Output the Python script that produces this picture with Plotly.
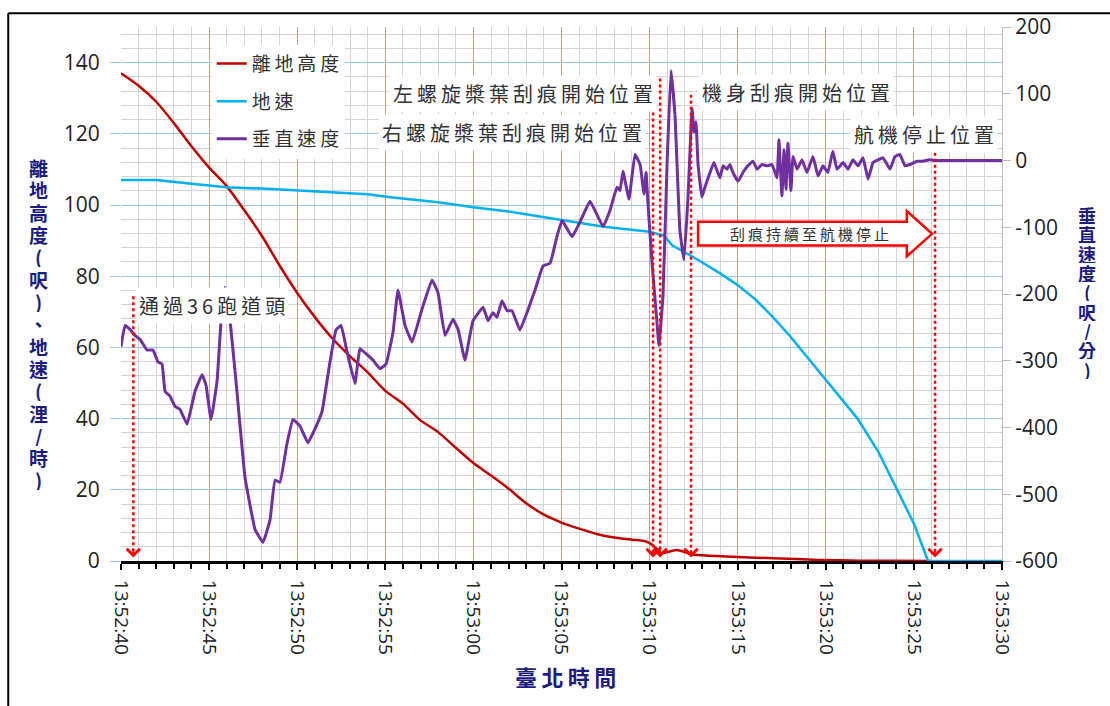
import plotly.graph_objects as go

# ---------------- data (seconds after 13:52:40) ----------------
tick_labels = ["13:52:40", "13:52:45", "13:52:50", "13:52:55", "13:53:00", "13:53:05",
               "13:53:10", "13:53:15", "13:53:20", "13:53:25", "13:53:30"]
tick_secs = [0, 5, 10, 15, 20, 25, 30, 35, 40, 45, 50]
vs_ticks = [-600, -500, -400, -300, -200, -100, 0, 100, 200]

alt_t = [0, 1, 2, 3, 4, 5, 6, 7, 8, 9, 10, 11, 12, 13, 14, 15, 16, 17, 18, 19, 20,
         21, 22, 23, 24, 25, 26, 27, 28, 29, 29.7, 30.0, 30.3, 30.65, 31.0, 31.55, 32.0,
         32.35, 33, 35, 37, 39.6, 42, 44, 46]
alt_ft = [137, 133.5, 129, 123, 116.5, 110.5, 105.3, 98.5, 91.3, 83, 75.3, 68.5, 62.5,
          57.5, 53, 47.8, 44.2, 39.5, 36.2, 31.8, 27.5, 24.0, 20.3, 16.2, 13.0, 10.8, 9.1,
          7.6, 6.6, 6.0, 5.6, 5.0, 3.9, 2.2, 2.5, 3.1, 2.5, 1.9, 1.6, 1.1, 0.8, 0.3, 0.1,
          0.05, 0]

gs_t = [0, 2, 4, 6, 8, 10, 12, 14, 15.3, 18, 20, 22, 25, 27.4, 30, 30.8, 31.3, 32.4, 34,
        35, 36, 37, 38, 39, 40.1, 41.8, 43, 44, 45, 45.8, 50]
gs_kt = [107, 107, 106, 105, 104.6, 104, 103.6, 103, 102.2, 100.8, 99.4, 98.2, 95.8, 93.9,
         92.5, 91.4, 88.6, 85.6, 80.8, 77.5, 73.5, 68.5, 63, 57, 50.3, 40, 30.5, 20.6,
         10.5, 0, 0]

vs_t = [0, 0.23, 0.51, 0.79, 1.08, 1.48, 1.82, 2.10, 2.33, 2.50, 2.78, 3.06, 3.35, 3.75,
        4.20, 4.60, 4.82, 5.11, 5.45, 5.68, 5.90, 6.19, 6.58, 7.04, 7.61, 8.06, 8.46, 8.74,
        9.02, 9.42, 9.76, 10.16, 10.61, 11.01, 11.41, 11.86, 12.20, 12.49, 12.83, 13.28,
        13.56, 13.96, 14.30, 14.70, 15.04, 15.44, 15.72, 16.12, 16.52, 17.08, 17.65, 17.99,
        18.39, 18.84, 19.13, 19.52, 19.98, 20.55, 20.83, 21.11, 21.34, 21.62, 21.91, 22.19,
        22.64, 23.04, 23.50, 23.95, 24.35, 24.74, 25.03, 25.60, 26.05, 26.62, 27.36, 27.75,
        28.15, 28.32, 28.49, 28.83, 29.17, 29.46, 29.68, 29.80, 29.91, 30.14, 30.42, 30.53,
        30.76, 30.99, 31.21, 31.44, 31.72, 31.95, 32.18, 32.41, 32.52, 32.63, 32.75, 32.97,
        33.14, 33.43, 33.65, 33.99, 34.17, 34.39, 34.56, 34.73, 35.02, 35.30, 35.58, 35.87,
        36.10, 36.38, 36.66, 36.95, 37.23, 37.34, 37.51, 37.63, 37.74, 37.85, 38.02, 38.14,
        38.37, 38.65, 38.93, 39.27, 39.56, 39.84, 40.12, 40.40, 40.64, 40.98, 41.26, 41.54,
        41.83, 42.11, 42.40, 42.68, 42.96, 43.25, 43.64, 43.93, 44.20, 44.50, 44.78, 45.18,
        45.50, 45.90, 46.20, 50]
vs_fpm = [-279, -247, -253, -262, -268, -284, -284, -302, -305, -346, -353, -368, -373, -395,
          -346, -321, -336, -388, -331, -240, -190, -240, -346, -475, -553, -572, -538, -479,
          -482, -424, -388, -398, -423, -402, -376, -302, -254, -247, -287, -334,
          -282, -291, -299, -312, -305, -257, -194, -247, -272, -223, -179, -198,
          -262, -238, -253, -299, -240, -220, -240, -228, -235, -210, -225, -225,
          -254, -228, -194, -158, -154, -114, -90, -114, -92, -61, -99, -75,
          -40, -45, -16, -58, 9, -6, -50, -18, -65, -154, -243, -277,
          -203, -6, 135, 68, -105, -149, -55, 78, 43, 58, -6, -55,
          -40, -18, -3, -26, -8, -13, -6, -18, -31, -18, -8, -1,
          -13, -6, -8, -6, -26, 31, -53, 16, -43, 26, -45, 6,
          -13, 1, -18, 6, -23, -8, -18, 14, -13, -3, -13, 1,
          -8, 4, -28, -3, 1, 4, -13, 6, 9, -8, -6, -1,
          -1, 1, 0, 0]

# event markers: time (s) and top of dotted line (left-axis units)
event_t = [0.7, 30.2, 30.6, 32.35, 46.2]
event_top = [74.4, 126, 135.5, 131, 114.7]

RED = "#C00000"
BLUE = "#00B0F0"
PURPLE = "#7030A0"
NAVY = "#1B1B85"
CJK = "Noto Sans CJK TC"
NUM = "Open Sans"

PLOT_TOP, PLOT_H = 20, 541


def sp(s, gap="\u2009"):
    return gap.join(s)


def py(px):
    """pixel row -> paper y"""
    return (PLOT_TOP + PLOT_H - px) / PLOT_H


fig = go.Figure()
fig.add_trace(go.Scatter(x=alt_t, y=alt_ft, name=sp("離地高度"), mode="lines",
                         line=dict(color=RED, width=2.5, shape="spline", smoothing=0.6),
                         legendgroup="a"))
fig.add_trace(go.Scatter(x=gs_t, y=gs_kt, name=sp("地速"), mode="lines",
                         line=dict(color=BLUE, width=2.5), legendgroup="b"))
fig.add_trace(go.Scatter(x=vs_t, y=vs_fpm, name=sp("垂直速度"), mode="lines",
                         line=dict(color=PURPLE, width=3, shape="spline", smoothing=0.3),
                         yaxis="y2", legendgroup="c"))

shapes = []
annotations = []

# dotted event lines with arrowheads
for t, top in zip(event_t, event_top):
    shapes.append(dict(type="line", xref="x", yref="y", x0=t, x1=t, y0=top, y1=2.0,
                       line=dict(color="#FF0000", width=2.5, dash="dot"), layer="above"))
    annotations.append(dict(x=t, y=1.0, xref="x", yref="y", ax=0, ay=-9, text="",
                            showarrow=True, arrowhead=4, arrowsize=1.6, arrowwidth=1.6,
                            arrowcolor="#FF0000"))

# block arrow
shapes.append(dict(type="path", xref="x", yref="y", layer="above",
                   path="M 32.75,95.3 L 44.6,95.3 L 44.6,98.3 L 46.03,91.9 L 44.6,85.6 "
                        "L 44.6,88.6 L 32.75,88.6 Z",
                   fillcolor="white", line=dict(color="#FF0000", width=2.5)))

# outer border (top + left)
shapes.append(dict(type="line", xref="paper", yref="paper", x0=-0.128, x1=1.2,
                   y0=py(6), y1=py(6), line=dict(color="black", width=2)))
shapes.append(dict(type="line", xref="paper", yref="paper", x0=-0.128, x1=-0.128,
                   y0=py(6), y1=py(720), line=dict(color="black", width=2)))

txt_font = dict(family=CJK, size=20, color="#333333")
for text, x, y in [("左螺旋槳葉刮痕開始位置", 22.8, 131.4),
                   ("右螺旋槳葉刮痕開始位置", 22.2, 120.5),
                   ("機身刮痕開始位置", 38.3, 131.7),
                   ("航機停止位置", 45.6, 119.7),
                   ("通過36跑道頭", 5.17, 71.9)]:
    annotations.append(dict(x=x, y=y, xref="x", yref="y", text=sp(text), showarrow=False,
                            xanchor="center", yanchor="middle",
                            font=txt_font, bgcolor="white", borderpad=3))

annotations.append(dict(x=39.05, y=91.9, xref="x", yref="y", text=sp("刮痕持續至航機停止"),
                        showarrow=False, xanchor="center", yanchor="middle",
                        font=dict(family=CJK, size=15, color="#333333")))

# stacked (vertical) axis titles, one character per row
left_title = list("離地高度(呎)、地速(浬/時)")
right_title = list("垂直速度(呎/分)")
for i, ch in enumerate(left_title):
    annotations.append(dict(x=(38 - 121) / 881, y=py(162 + i * 22.6), xref="paper",
                            yref="paper", text=ch, showarrow=False,
                            xanchor="center", yanchor="middle", height=22, borderpad=0,
                            font=dict(family=CJK, size=19, color=NAVY, weight="bold")))
for i, ch in enumerate(right_title):
    annotations.append(dict(x=(1087 - 121) / 881, y=py(210 + i * 19.6), xref="paper",
                            yref="paper", text=ch, showarrow=False,
                            xanchor="center", yanchor="middle", height=19, borderpad=0,
                            font=dict(family=CJK, size=18, color=NAVY, weight="bold")))
annotations.append(dict(x=0.504, y=py(678), xref="paper", yref="paper",
                        text=sp("臺北時間"), showarrow=False,
                        xanchor="center", yanchor="middle",
                        font=dict(family=CJK, size=22, color=NAVY, weight="bold")))

fig.update_layout(
    width=1110, height=706,
    margin=dict(l=121, r=108, t=PLOT_TOP, b=706 - PLOT_TOP - PLOT_H),
    paper_bgcolor="white", plot_bgcolor="white",
    showlegend=True,
    legend=dict(x=0.103, y=0.967, xanchor="left", yanchor="top", bgcolor="white",
                font=dict(family=CJK, size=19, color="#333333"),
                traceorder="grouped", tracegroupgap=10, itemwidth=30),
    xaxis=dict(range=[0, 50], tickvals=tick_secs, ticktext=tick_labels, tickangle=90,
               showgrid=True, gridcolor="#D2A27E", gridwidth=1,
               ticks="outside", ticklen=6, tickwidth=2, tickcolor="black",
               showline=True, linecolor="black", linewidth=3, zeroline=False,
               ticklabelstandoff=6,
               tickfont=dict(family=NUM, size=19, color="#222222"),
               minor=dict(dtick=1, showgrid=True, gridcolor="#D4D4D4", gridwidth=1,
                          ticks="outside", ticklen=5, tickwidth=2, tickcolor="black")),
    yaxis=dict(range=[0, 150], dtick=20, showgrid=True, gridcolor="#9CC8EC", gridwidth=1.2,
               ticks="outside", ticklen=10, tickcolor="#9CC8EC", zeroline=False,
               showline=False, ticklabelstandoff=6,
               tickfont=dict(family=NUM, size=21, color="#222222"),
               minor=dict(dtick=4, showgrid=True, gridcolor="#D4D4D4", gridwidth=1)),
    yaxis2=dict(range=[-600, 200], tickvals=vs_ticks, ticktext=[str(v) for v in vs_ticks],
                overlaying="y", side="right", showgrid=False,
                ticks="outside", ticklen=8, tickcolor="#BBBBBB", showline=True,
                linecolor="#BBBBBB", zeroline=False,
                tickfont=dict(family=NUM, size=21, color="#222222")),
    shapes=shapes,
    annotations=annotations,
)

fig.write_html("out.html", config={"displayModeBar": False},
               post_script="document.body.style.margin='0';document.body.style.padding='0';"
                           "document.body.style.overflow='hidden';")
